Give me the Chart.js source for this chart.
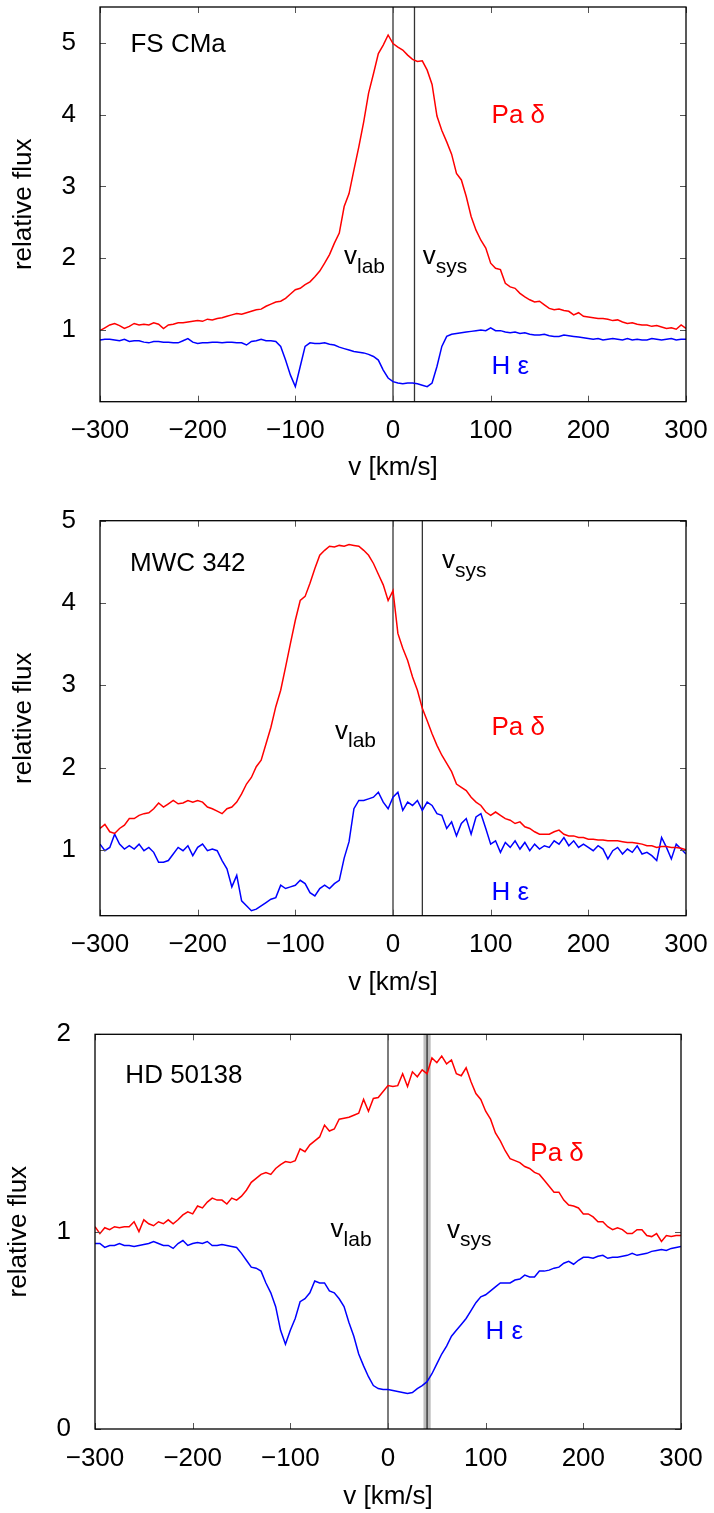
<!DOCTYPE html>
<html><head><meta charset="utf-8">
<script src="https://cdn.jsdelivr.net/npm/chart.js@4.4.0/dist/chart.umd.min.js"></script>
<style>
html,body{margin:0;padding:0;background:#fff;}
#wrap{position:relative;width:714px;height:1513px;background:#fff;}
canvas{position:absolute;left:0;}
</style></head><body>
<div id="wrap">
<canvas id="c1" width="714" height="490" style="top:0px"></canvas>
<canvas id="c2" width="714" height="515" style="top:490px"></canvas>
<canvas id="c3" width="714" height="513" style="top:1000px"></canvas>
</div>
<script>
// ---------------- data ----------------
const velocity = [-300,-295,-290,-285,-280,-275,-270,-265,-260,-255,
-250,-245,-240,-235,-230,-225,-220,-215,-210,-205,
-200,-195,-190,-185,-180,-175,-170,-165,-160,-155,
-150,-145,-140,-135,-130,-125,-120,-115,-110,-105,
-100,-95,-90,-85,-80,-75,-70,-65,-60,-55,
-50,-45,-40,-35,-30,-25,-20,-15,-10,-5,
0,5,10,15,20,25,30,35,40,45,
50,55,60,65,70,75,80,85,90,95,
100,105,110,115,120,125,130,135,140,145,
150,155,160,165,170,175,180,185,190,195,
200,205,210,215,220,225,230,235,240,245,
250,255,260,265,270,275,280,285,290,295,
300];

const fsCmaPaDelta = [0.99,1.03,1.07,1.09,1.06,1.02,1.05,1.09,1.07,1.08,
1.07,1.10,1.08,1.02,1.07,1.08,1.10,1.10,1.11,1.12,
1.13,1.12,1.15,1.14,1.16,1.17,1.19,1.21,1.23,1.22,
1.24,1.26,1.28,1.29,1.33,1.36,1.39,1.40,1.44,1.50,
1.56,1.58,1.63,1.67,1.74,1.82,1.93,2.05,2.21,2.35,
2.72,2.90,3.23,3.55,3.90,4.30,4.57,4.85,4.97,5.11,
4.99,4.94,4.90,4.83,4.77,4.74,4.75,4.62,4.42,3.98,
3.78,3.62,3.45,3.18,3.09,2.86,2.58,2.39,2.25,2.14,
1.93,1.86,1.84,1.65,1.60,1.58,1.51,1.46,1.42,1.39,
1.40,1.35,1.30,1.28,1.29,1.27,1.26,1.21,1.24,1.19,
1.18,1.17,1.16,1.16,1.15,1.13,1.14,1.11,1.09,1.10,
1.08,1.07,1.07,1.05,1.06,1.04,1.02,1.03,1.01,1.07,
1.02];

const fsCmaHEps = [0.86,0.87,0.87,0.86,0.85,0.87,0.84,0.85,0.85,0.83,
0.82,0.84,0.84,0.83,0.83,0.82,0.82,0.85,0.88,0.83,
0.81,0.82,0.82,0.83,0.83,0.82,0.83,0.83,0.82,0.82,
0.79,0.84,0.85,0.87,0.85,0.85,0.84,0.77,0.58,0.37,
0.21,0.49,0.77,0.82,0.81,0.81,0.82,0.80,0.79,0.76,
0.74,0.72,0.70,0.69,0.68,0.66,0.63,0.58,0.44,0.33,
0.28,0.26,0.25,0.26,0.26,0.25,0.23,0.21,0.26,0.49,
0.77,0.91,0.94,0.95,0.96,0.97,0.98,0.99,1.00,0.99,
1.03,0.99,0.99,0.97,0.96,0.97,0.95,0.96,0.94,0.93,
0.93,0.94,0.92,0.91,0.91,0.93,0.92,0.91,0.90,0.89,
0.88,0.87,0.88,0.86,0.87,0.88,0.87,0.86,0.88,0.86,
0.87,0.86,0.86,0.88,0.87,0.86,0.87,0.88,0.86,0.87,
0.87];

const mwcPaDelta = [1.26,1.31,1.22,1.20,1.26,1.30,1.38,1.38,1.42,1.44,
1.45,1.50,1.57,1.52,1.56,1.60,1.56,1.57,1.60,1.58,
1.60,1.58,1.52,1.50,1.47,1.44,1.50,1.52,1.58,1.68,
1.80,1.88,2.01,2.09,2.29,2.49,2.74,2.94,3.22,3.51,
3.79,4.03,4.08,4.24,4.42,4.58,4.64,4.69,4.68,4.70,
4.69,4.71,4.70,4.69,4.64,4.58,4.48,4.35,4.22,4.03,
4.15,3.63,3.45,3.30,3.10,2.94,2.72,2.57,2.41,2.27,
2.15,2.05,1.95,1.80,1.76,1.72,1.64,1.58,1.54,1.46,
1.42,1.46,1.42,1.38,1.36,1.32,1.34,1.28,1.26,1.22,
1.19,1.19,1.19,1.22,1.24,1.19,1.17,1.17,1.15,1.15,
1.13,1.13,1.12,1.12,1.11,1.11,1.11,1.10,1.09,1.09,
1.08,1.07,1.05,1.05,1.03,1.04,1.04,1.03,1.03,1.02,
1.00];

const mwcHEps = [1.07,0.99,1.03,1.19,1.07,1.01,1.05,1.01,1.07,0.99,
1.03,0.97,0.85,0.85,0.87,0.95,1.03,0.99,1.05,0.93,
1.03,1.07,0.99,1.01,0.99,0.87,0.77,0.55,0.69,0.38,
0.32,0.26,0.28,0.32,0.36,0.40,0.42,0.57,0.53,0.55,
0.57,0.63,0.59,0.48,0.44,0.53,0.57,0.53,0.59,0.63,
0.90,1.10,1.50,1.60,1.60,1.62,1.64,1.70,1.58,1.50,
1.64,1.70,1.48,1.58,1.54,1.60,1.48,1.58,1.54,1.44,
1.42,1.26,1.34,1.17,1.32,1.38,1.19,1.40,1.44,1.26,
1.07,1.11,0.97,1.09,1.03,1.11,1.01,1.09,0.99,1.07,
1.01,1.05,1.03,1.11,1.07,1.15,1.05,1.11,1.03,1.07,
1.03,0.99,1.05,1.01,0.89,0.99,1.03,0.95,1.01,0.97,
1.05,0.95,0.97,0.93,0.87,1.15,1.03,0.89,1.07,1.01,
0.95];

const hdPaDelta = [1.025,0.99,1.02,1.01,1.025,1.02,1.025,1.025,1.05,1.00,
1.06,1.04,1.03,1.05,1.04,1.06,1.04,1.06,1.085,1.10,
1.09,1.13,1.12,1.15,1.17,1.16,1.16,1.14,1.17,1.16,
1.18,1.21,1.25,1.27,1.29,1.30,1.29,1.32,1.34,1.355,
1.35,1.36,1.42,1.405,1.44,1.46,1.48,1.54,1.51,1.52,
1.57,1.575,1.58,1.59,1.60,1.67,1.61,1.675,1.68,1.71,
1.74,1.735,1.74,1.80,1.735,1.81,1.785,1.82,1.80,1.88,
1.856,1.89,1.85,1.87,1.80,1.79,1.83,1.76,1.70,1.67,
1.61,1.57,1.50,1.46,1.41,1.37,1.36,1.35,1.33,1.32,
1.30,1.29,1.26,1.23,1.20,1.20,1.16,1.135,1.13,1.12,
1.09,1.09,1.075,1.05,1.05,1.025,1.01,1.02,1.01,0.99,
0.99,1.01,1.01,0.98,0.975,0.99,0.95,0.98,0.975,0.98,
0.98];

const hdHEps = [0.94,0.94,0.92,0.93,0.93,0.94,0.93,0.93,0.925,0.93,
0.935,0.94,0.95,0.94,0.93,0.93,0.915,0.94,0.955,0.93,
0.94,0.945,0.94,0.95,0.93,0.93,0.935,0.93,0.925,0.92,
0.89,0.855,0.82,0.815,0.80,0.74,0.69,0.62,0.50,0.43,
0.50,0.56,0.645,0.66,0.69,0.75,0.74,0.74,0.70,0.69,
0.66,0.62,0.54,0.47,0.38,0.32,0.265,0.22,0.205,0.20,
0.20,0.195,0.19,0.185,0.18,0.185,0.205,0.22,0.24,0.28,
0.33,0.38,0.42,0.47,0.50,0.53,0.56,0.60,0.64,0.67,
0.68,0.70,0.72,0.74,0.74,0.74,0.755,0.76,0.78,0.77,
0.77,0.80,0.80,0.805,0.815,0.82,0.84,0.85,0.835,0.855,
0.87,0.87,0.865,0.875,0.88,0.865,0.87,0.87,0.875,0.88,
0.89,0.88,0.885,0.89,0.90,0.905,0.91,0.905,0.915,0.92,
0.925];

const starNames = ['FS CMa', 'MWC 342', 'HD 50138'];
const xTickValues = [-300, -200, -100, 0, 100, 200, 300];
const xRange = [-300, 300];
const yTicks1 = [1, 2, 3, 4, 5];
const yTicks2 = [1, 2, 3, 4, 5];
const yTicks3 = [0, 1, 2];
const yRange1 = [0, 5.5];
const yRange2 = [0.2, 5];
const yRange3 = [0, 2];
const vLabValues = [0, 0, 0];
const vSysValues = [22, 30, 40];
const vSysErr = [0, 0, 3.7];

// ---------------- layout / style ----------------
const FONT = '"Liberation Sans", Arial, Helvetica, sans-serif';
const panels = [
  {id:'c1', H:490, frame:{left:100,right:686,top:7,bottom:401.7}, yTitlePad:8.4, xTitlePad:6.4,
   pa:fsCmaPaDelta, he:fsCmaHEps, yTicks:yTicks1, yRange:yRange1, idx:0,
   labels:{name:[-268.8,4.875], vlab:[-50.2,1.914], vsys:[30.4,1.914], pa:[100.9,3.886], he:[100.9,0.386]}},
  {id:'c2', H:515, frame:{left:100,right:686,top:30.7,bottom:425.7}, yTitlePad:8.4, xTitlePad:6.4,
   pa:mwcPaDelta, he:mwcHEps, yTicks:yTicks2, yRange:yRange2, idx:1,
   labels:{name:[-269.3,4.39], vlab:[-59.4,2.35], vsys:[50.2,4.42], pa:[100.8,2.40], he:[100.8,0.395]}},
  {id:'c3', H:513, frame:{left:95,right:681,top:34.3,bottom:429}, yTitlePad:3.1, xTitlePad:0.4,
   pa:hdPaDelta, he:hdHEps, yTicks:yTicks3, yRange:yRange3, idx:2,
   labels:{name:[-268.9,1.755], vlab:[-58.8,0.971], vsys:[60.3,0.968], pa:[145.7,1.358], he:[99.9,0.456]}}
];

Chart.defaults.color = '#000';
Chart.defaults.font.family = FONT;

function fmtTick(v){ return v < 0 ? '\u2212' + Math.abs(v) : String(v); }

function makePlugin(p){
  return {
    id: 'spectra' + p.idx,
    beforeDatasetsDraw(chart){
      const err = vSysErr[p.idx];
      if (err > 0){
        const {ctx, chartArea:a, scales:{x}} = chart;
        const x1 = x.getPixelForValue(vSysValues[p.idx] - err);
        const x2 = x.getPixelForValue(vSysValues[p.idx] + err);
        ctx.save();
        ctx.fillStyle = '#bdbdbd';
        ctx.fillRect(x1, a.top, x2 - x1, a.bottom - a.top);
        ctx.restore();
      }
    },
    afterDraw(chart){
      const {ctx, chartArea:a, scales:{x, y}} = chart;
      ctx.save();
      // inward ticks on all four sides
      ctx.strokeStyle = '#555';
      ctx.lineWidth = 1;
      const tl = 6;
      xTickValues.forEach(v => {
        const px = Math.round(x.getPixelForValue(v)) + 0.5;
        ctx.beginPath();
        ctx.moveTo(px, a.bottom); ctx.lineTo(px, a.bottom - tl);
        ctx.moveTo(px, a.top); ctx.lineTo(px, a.top + tl);
        ctx.stroke();
      });
      p.yTicks.forEach(v => {
        const py = Math.round(y.getPixelForValue(v)) + 0.5;
        ctx.beginPath();
        ctx.moveTo(a.left, py); ctx.lineTo(a.left + tl, py);
        ctx.moveTo(a.right, py); ctx.lineTo(a.right - tl, py);
        ctx.stroke();
      });
      // frame
      ctx.strokeStyle = '#000';
      ctx.lineWidth = 1.3;
      ctx.strokeRect(a.left, a.top, a.right - a.left, a.bottom - a.top);
      // labels
      ctx.textBaseline = 'alphabetic';
      ctx.textAlign = 'left';
      const L = p.labels;
      const at = (pt) => [x.getPixelForValue(pt[0]), y.getPixelForValue(pt[1])];
      ctx.font = '26px ' + FONT;
      ctx.fillStyle = '#000';
      let q = at(L.name); ctx.fillText(starNames[p.idx], q[0], q[1]);
      const sub = (pt, s) => {
        const r = at(pt);
        ctx.font = '26px ' + FONT;
        ctx.fillStyle = '#000';
        ctx.fillText('v', r[0], r[1]);
        const w = ctx.measureText('v').width;
        ctx.font = '21px ' + FONT;
        ctx.fillText(s, r[0] + w, r[1] + 8.4);
      };
      sub(L.vlab, 'lab');
      sub(L.vsys, 'sys');
      ctx.font = '26px ' + FONT;
      ctx.fillStyle = '#ff0000';
      q = at(L.pa); ctx.fillText('Pa \u03B4', q[0], q[1]);
      ctx.fillStyle = '#0000ff';
      q = at(L.he); ctx.fillText('H \u03B5', q[0], q[1]);
      ctx.restore();
    }
  };
}

panels.forEach(p => {
  const W = 714;
  const pts = arr => velocity.map((v, i) => ({x: v, y: arr[i]}));
  const vline = (v, col, w) => ({
    data: [{x: v, y: p.yRange[0]}, {x: v, y: p.yRange[1]}],
    borderColor: col, borderWidth: w, pointRadius: 0, tension: 0
  });
  new Chart(document.getElementById(p.id), {
    type: 'line',
    data: {
      datasets: [
        {data: pts(p.pa), borderColor: '#ff0000', borderWidth: 1.5, pointRadius: 0, tension: 0},
        {data: pts(p.he), borderColor: '#0000ff', borderWidth: 1.5, pointRadius: 0, tension: 0},
        vline(vLabValues[p.idx], p.idx === 0 ? '#333' : '#111', p.idx === 0 ? 1.3 : 1.1),
        vline(vSysValues[p.idx], p.idx === 0 ? '#333' : '#111', p.idx === 0 ? 1.3 : 1.1)
      ]
    },
    options: {
      responsive: false,
      animation: false,
      events: [],
      layout: {padding: {left: 0, top: p.frame.top, right: W - p.frame.right, bottom: 0}},
      plugins: {legend: {display: false}, tooltip: {enabled: false}},
      scales: {
        x: {
          type: 'linear', min: xRange[0], max: xRange[1],
          grid: {display: false}, border: {display: false},
          afterBuildTicks: s => { s.ticks = xTickValues.map(v => ({value: v})); },
          afterFit: s => { s.height = p.H - p.frame.bottom; s.paddingLeft = 0; s.paddingRight = 0; },
          ticks: {font: {size: 26, family: FONT}, padding: 6, maxRotation: 0, autoSkip: false, callback: fmtTick},
          title: {display: true, text: 'v [km/s]', font: {size: 26, family: FONT, lineHeight: 1.2}, padding: {top: 0, bottom: p.xTitlePad}}
        },
        y: {
          type: 'linear', min: p.yRange[0], max: p.yRange[1],
          grid: {display: false}, border: {display: false},
          afterBuildTicks: s => { s.ticks = p.yTicks.map(v => ({value: v})); },
          afterFit: s => { s.width = p.frame.left; s.paddingTop = 0; s.paddingBottom = 0; },
          ticks: {font: {size: 26, family: FONT}, padding: 16, callback: v => fmtTick(v)},
          title: {display: true, text: 'relative flux', font: {size: 26, family: FONT, lineHeight: 1.2}, padding: {top: p.yTitlePad, bottom: 0}}
        }
      }
    },
    plugins: [makePlugin(p)]
  });
});
</script>
</body></html>
